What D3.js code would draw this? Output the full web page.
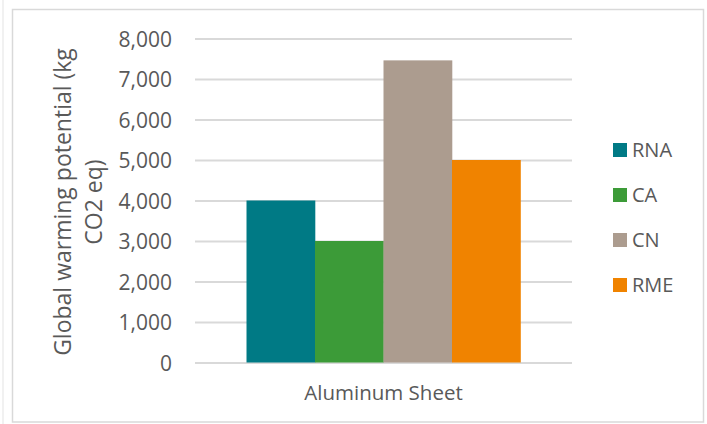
<!DOCTYPE html>
<html>
<head>
<meta charset="utf-8">
<script src="https://cdn.jsdelivr.net/npm/d3@7"></script>
<style>
  html, body { margin: 0; padding: 0; background: #ffffff; }
  svg { display: block; }
  text { font-family: "Open Sans", sans-serif; fill: #595959; }
</style>
</head>
<body>
<svg id="chart" width="707" height="424"></svg>
<script>
// ---- data ----
const categories = ["Aluminum Sheet"];
const seriesNames = ["RNA", "CA", "CN", "RME"];
const seriesValues = [4000, 3000, 7460, 5000];
const seriesColors = ["#007A85", "#3C9B38", "#AC9C8F", "#F08300"];
const yTicks = [0, 1000, 2000, 3000, 4000, 5000, 6000, 7000, 8000];
const yTitleLines = ["Global warming potential (kg", "CO2 eq)"];

const svg = d3.select("#chart");
const W = 707, H = 424;

// page edge line and chart border
svg.append("line").attr("x1", 3).attr("x2", 3).attr("y1", 0).attr("y2", H)
  .attr("stroke", "#e3e3e3").attr("stroke-width", 1);
svg.append("rect").attr("x", 12.5).attr("y", 9.5).attr("width", 691).attr("height", 412.5)
  .attr("fill", "#ffffff").attr("stroke", "#d9d9d9").attr("stroke-width", 1.5);

const plot = { left: 195, right: 572, top: 38.5, bottom: 362.5 };

const y = d3.scaleLinear().domain([0, 8000]).range([plot.bottom, plot.top]);
const x0 = d3.scaleBand().domain(categories).range([plot.left, plot.right])
  .paddingInner(0).paddingOuter(0.188);
const x1 = d3.scaleBand().domain(seriesNames).range([0, x0.bandwidth()]).padding(0);

// gridlines
const yAxis = d3.axisLeft(y).tickValues(yTicks)
  .tickSize(-(plot.right - plot.left)).tickFormat(d3.format(","));
const gy = svg.append("g").attr("transform", `translate(${plot.left},0)`).call(yAxis);
gy.select(".domain").remove();
gy.selectAll(".tick line").attr("stroke", "#d9d9d9").attr("stroke-width", 1.8);
gy.selectAll(".tick text").attr("x", -23).attr("dy", "0.36em")
  .style("font-size", "21px").attr("fill", "#595959");

// bars
const gBars = svg.append("g");
categories.forEach((cat, ci) => {
  seriesNames.forEach((s, si) => {
    gBars.append("rect")
      .attr("x", x0(cat) + x1(s))
      .attr("y", y(seriesValues[si]))
      .attr("width", x1.bandwidth() + 0.3)
      .attr("height", y(0) - y(seriesValues[si]))
      .attr("fill", seriesColors[si]);
  });
});

// category axis label
const xAxis = d3.axisBottom(x0).tickSize(0);
const gx = svg.append("g").attr("transform", `translate(0,${plot.bottom})`).call(xAxis);
gx.select(".domain").remove();
gx.selectAll(".tick text").attr("y", 0).attr("dy", "37.5px")
  .style("font-size", "20.5px").attr("fill", "#595959");

// y-axis title
const titleX = [71, 102];
yTitleLines.forEach((t, i) => {
  svg.append("text")
    .attr("transform", `translate(${titleX[i]},202) rotate(-90)`)
    .attr("text-anchor", "middle")
    .style("font-size", "23px")
    .text(t);
});

// legend
const legend = svg.append("g");
seriesNames.forEach((s, i) => {
  const cy = 150 + i * 45;
  legend.append("rect").attr("x", 613).attr("y", cy - 7).attr("width", 14).attr("height", 14)
    .attr("fill", seriesColors[i]);
  legend.append("text").attr("x", 632).attr("y", cy).attr("dy", "0.36em")
    .style("font-size", "20px").text(s);
});
</script>
</body>
</html>
